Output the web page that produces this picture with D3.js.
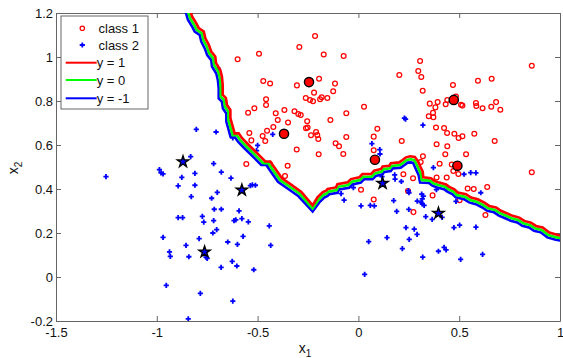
<!DOCTYPE html>
<html>
<head>
<meta charset="utf-8">
<script src="https://cdn.jsdelivr.net/npm/d3@7"></script>
<style>
body { margin: 0; background: #fff; }
text { font-family: "Liberation Sans", Arial, sans-serif; }
</style>
</head>
<body>
<div id="chart"></div>
<script>
// Axis ticks
var X_TICKS = [-1.5, -1, -0.5, 0, 0.5, 1];
var Y_TICKS = [-0.2, 0, 0.2, 0.4, 0.6, 0.8, 1, 1.2];

// class 1 samples (x1, x2)
var class1 = [
  [-0.215,1.095],[-0.293,1.045],[-0.172,1.011],[-0.073,1.005],[-0.493,1.015],[-0.599,0.990],
  [-0.472,0.891],[-0.438,0.880],[-0.305,0.871],[-0.195,0.901],[-0.116,0.879],[-0.220,0.838],
  [-0.125,0.844],[-0.261,0.814],[-0.240,0.805],[-0.225,0.799],[-0.190,0.808],[-0.182,0.817],
  [-0.154,0.814],[-0.458,0.808],[-0.458,0.782],[-0.516,0.767],[-0.547,0.747],[-0.410,0.744],
  [-0.367,0.759],[-0.317,0.753],[-0.298,0.741],[-0.286,0.736],[-0.400,0.714],[-0.349,0.702],
  [-0.254,0.708],[-0.139,0.714],[-0.060,0.744],[-0.422,0.682],[-0.453,0.665],[-0.541,0.655],
  [-0.531,0.621],[-0.475,0.641],[-0.462,0.618],[-0.260,0.676],[-0.252,0.679],[-0.210,0.659],
  [-0.204,0.645],[-0.235,0.644],[-0.199,0.627],[-0.060,0.636],[-0.113,0.608],[-0.096,0.594],
  [-0.075,0.559],[-0.306,0.580],[-0.197,0.558],[-0.556,0.514],[-0.438,0.512],[-0.351,0.506],
  [-0.364,0.459],
  [0.306,0.982],[0.297,0.936],[0.312,0.909],[0.203,0.918],[0.319,0.847],[0.860,0.960],
  [0.593,0.892],[0.661,0.901],[0.469,0.873],[0.484,0.820],[0.441,0.805],[0.354,0.788],
  [0.393,0.795],[0.382,0.771],[0.433,0.785],[0.509,0.783],[0.516,0.779],[0.583,0.791],
  [0.585,0.777],[0.616,0.767],[0.659,0.774],[0.683,0.795],[0.704,0.760],[0.028,0.774],
  [0.370,0.746],[0.372,0.726],[0.349,0.731],[0.385,0.680],[0.425,0.677],[0.440,0.655],
  [0.476,0.651],[0.497,0.632],[0.516,0.640],[0.575,0.651],[0.676,0.618],[0.388,0.603],
  [0.441,0.594],[0.431,0.558],[0.534,0.558],[0.094,0.674],[0.076,0.638],[0.215,0.618],
  [0.076,0.576],[0.320,0.549],[0.309,0.523],[0.403,0.515],[0.463,0.511],[0.860,0.476],
  [0.223,0.467],[0.271,0.449],[0.388,0.452],[0.438,0.452],[0.471,0.482],[0.496,0.468],
  [0.502,0.349],[0.542,0.402],[0.572,0.400],[0.639,0.409],[0.630,0.282],[0.013,0.397],
  [0.076,0.352],[0.246,0.391],[0.368,0.371],[0.273,0.295]
];

// class 2 samples
var class2 = [
  [-0.696,0.948],[-0.804,0.671],[-0.706,0.659],[-0.623,0.632],[-0.425,0.648],[-0.500,0.598],
  [-0.505,0.574],[-0.832,0.547],[-0.718,0.515],[-0.680,0.477],[-0.811,0.471],[-0.987,0.488],
  [-0.979,0.473],[-0.969,0.469],[-0.876,0.453],[-0.632,0.449],
  [-1.252,0.456],[-0.894,0.414],[-0.811,0.417],[-0.829,0.365],[-0.700,0.385],[-0.728,0.358],
  [-0.536,0.415],[-0.526,0.419],[-0.511,0.417],[-0.715,0.308],[-0.680,0.308],[-0.894,0.270],
  [-0.872,0.270],[-0.774,0.276],[-0.767,0.249],[-0.718,0.256],[-0.703,0.215],[-0.722,0.200],
  [-0.592,0.301],[-0.617,0.256],[-0.608,0.260],[-0.578,0.265],[-0.546,0.251],[-0.442,0.232],
  [-0.435,0.144],[-0.572,0.185],[-0.600,0.148],[-0.648,0.159],[-0.790,0.174],[-0.855,0.144],
  [-0.969,0.180],[-0.937,0.114],[-0.933,0.094],[-0.841,0.092],[-0.756,0.090],[-0.750,0.085],
  [-0.626,0.071],[-0.603,0.050],[-0.681,0.044],[-0.519,0.033],[-0.953,-0.038],[-0.784,-0.074],
  [-0.623,-0.110],[-0.844,-0.190],
  [0.234,0.718],[0.228,0.722],[0.320,0.690],[0.067,0.606],[0.106,0.579],[0.372,0.497],
  [0.524,0.467],[0.557,0.474],[0.583,0.473],[0.180,0.464],
  [0.107,0.559],[0.117,0.456],[0.182,0.445],[0.213,0.434],[0.248,0.393],[0.251,0.383],
  [0.314,0.377],[0.322,0.368],[0.317,0.355],[0.387,0.397],[0.438,0.408],[0.484,0.344],
  [0.607,0.383],[-0.025,0.406],[-0.086,0.379],[-0.071,0.349],[0.013,0.323],[0.059,0.326],
  [0.079,0.323],[0.175,0.347],[0.190,0.298],[0.250,0.307],[0.292,0.345],[0.311,0.339],
  [0.317,0.332],[0.326,0.326],[0.334,0.274],[0.366,0.262],[0.415,0.271],[0.236,0.224],
  [0.277,0.218],[0.291,0.194],[0.252,0.171],[0.142,0.179],[0.051,0.161],[0.218,0.129],
  [0.319,0.090],[0.397,0.117],[0.425,0.135],[0.435,0.123],[0.474,0.224],[0.502,0.236],
  [0.583,0.227],[0.507,0.080],[0.616,0.103],[0.031,0.012]
];

// support vectors
var sv1 = [[-0.245,0.886],[-0.369,0.651],[0.082,0.533],[0.473,0.805],[0.491,0.506]];
var sv2 = [[-0.870,0.524],[-0.578,0.395],[-0.763,0.114],[0.120,0.426],[0.397,0.290]];

// contour y = 1
var lineP1 = [
  [-0.836,1.218],[-0.825,1.184],[-0.804,1.153],[-0.792,1.131],[-0.767,1.116],[-0.759,1.085],
  [-0.742,1.055],[-0.730,1.025],[-0.710,1.002],[-0.706,0.972],[-0.685,0.941],[-0.677,0.911],
  [-0.673,0.873],[-0.673,0.828],[-0.657,0.813],[-0.652,0.782],[-0.635,0.759],[-0.635,0.722],
  [-0.614,0.653],[-0.594,0.653],[-0.577,0.631],[-0.544,0.600],[-0.494,0.555],[-0.462,0.525],
  [-0.437,0.525],[-0.420,0.502],[-0.379,0.449],[-0.332,0.419],[-0.283,0.387],[-0.227,0.326],
  [-0.203,0.362],[-0.178,0.385],[-0.161,0.392],[-0.153,0.400],[-0.112,0.407],[-0.104,0.422],
  [-0.054,0.430],[-0.037,0.445],[0.004,0.453],[0.020,0.468],[0.062,0.468],[0.078,0.483],
  [0.112,0.491],[0.120,0.502],[0.153,0.506],[0.161,0.517],[0.202,0.521],[0.219,0.532],
  [0.236,0.544],[0.257,0.549],[0.280,0.546],[0.296,0.525],[0.307,0.502],[0.319,0.479],
  [0.322,0.453],[0.360,0.449],[0.377,0.437],[0.401,0.429],[0.435,0.421],[0.451,0.410],
  [0.476,0.399],[0.493,0.384],[0.534,0.376],[0.559,0.361],[0.592,0.353],[0.625,0.338],
  [0.649,0.323],[0.683,0.316],[0.707,0.301],[0.741,0.288],[0.765,0.278],[0.798,0.270],
  [0.823,0.255],[0.856,0.247],[0.881,0.232],[0.914,0.225],[0.947,0.202],[0.989,0.191],
  [1.015,0.187]
];

// contour y = 0
var line0 = [
  [-0.846,1.210],[-0.835,1.176],[-0.814,1.145],[-0.802,1.123],[-0.777,1.108],[-0.769,1.077],
  [-0.752,1.047],[-0.740,1.017],[-0.720,0.994],[-0.716,0.964],[-0.695,0.933],[-0.687,0.903],
  [-0.683,0.865],[-0.683,0.820],[-0.667,0.805],[-0.662,0.774],[-0.645,0.751],[-0.645,0.714],
  [-0.624,0.645],[-0.604,0.645],[-0.587,0.623],[-0.554,0.592],[-0.504,0.547],[-0.472,0.517],
  [-0.447,0.517],[-0.430,0.494],[-0.389,0.441],[-0.339,0.409],[-0.290,0.377],[-0.227,0.312],
  [-0.199,0.350],[-0.174,0.373],[-0.157,0.380],[-0.149,0.388],[-0.108,0.395],[-0.100,0.410],
  [-0.050,0.418],[-0.033,0.433],[0.008,0.441],[0.024,0.456],[0.066,0.456],[0.082,0.471],
  [0.116,0.479],[0.124,0.490],[0.157,0.494],[0.165,0.505],[0.206,0.509],[0.223,0.520],
  [0.240,0.532],[0.259,0.535],[0.276,0.532],[0.286,0.517],[0.297,0.494],[0.309,0.471],
  [0.314,0.441],[0.355,0.438],[0.372,0.426],[0.396,0.418],[0.430,0.410],[0.446,0.399],
  [0.471,0.388],[0.488,0.373],[0.529,0.365],[0.554,0.350],[0.587,0.342],[0.620,0.327],
  [0.644,0.312],[0.678,0.305],[0.702,0.290],[0.736,0.277],[0.760,0.267],[0.793,0.259],
  [0.818,0.244],[0.851,0.236],[0.876,0.221],[0.909,0.214],[0.942,0.191],[0.984,0.180],
  [1.010,0.176]
];

// contour y = -1
var lineM1 = [
  [-0.856,1.202],[-0.845,1.168],[-0.824,1.137],[-0.812,1.115],[-0.787,1.100],[-0.779,1.069],
  [-0.762,1.039],[-0.750,1.009],[-0.730,0.986],[-0.726,0.956],[-0.705,0.925],[-0.697,0.895],
  [-0.693,0.857],[-0.693,0.812],[-0.677,0.797],[-0.672,0.766],[-0.655,0.743],[-0.655,0.706],
  [-0.634,0.637],[-0.614,0.637],[-0.597,0.615],[-0.564,0.584],[-0.514,0.539],[-0.482,0.509],
  [-0.457,0.509],[-0.440,0.486],[-0.399,0.433],[-0.346,0.399],[-0.297,0.367],[-0.227,0.298],
  [-0.195,0.338],[-0.170,0.361],[-0.153,0.368],[-0.145,0.376],[-0.104,0.383],[-0.096,0.398],
  [-0.046,0.406],[-0.029,0.421],[0.012,0.429],[0.028,0.444],[0.070,0.444],[0.086,0.459],
  [0.120,0.467],[0.128,0.478],[0.161,0.482],[0.169,0.493],[0.210,0.497],[0.227,0.508],
  [0.244,0.520],[0.261,0.521],[0.272,0.518],[0.276,0.509],[0.287,0.486],[0.299,0.463],
  [0.306,0.429],[0.350,0.427],[0.367,0.415],[0.391,0.407],[0.425,0.399],[0.441,0.388],
  [0.466,0.377],[0.483,0.362],[0.524,0.354],[0.549,0.339],[0.582,0.331],[0.615,0.316],
  [0.639,0.301],[0.673,0.294],[0.697,0.279],[0.731,0.266],[0.755,0.256],[0.788,0.248],
  [0.813,0.233],[0.846,0.225],[0.871,0.210],[0.904,0.203],[0.937,0.180],[0.979,0.169],
  [1.005,0.165]
];

var LEGEND_LABELS = ['class 1', 'class 2', 'y = 1', 'y = 0', 'y = -1'];

var width = 563, height = 358;
var margin = {top: 13, right: 3, bottom: 37, left: 56};

var svg = d3.select('#chart').append('svg')
  .attr('width', width)
  .attr('height', height);

var x = d3.scaleLinear().domain([-1.5, 1]).range([margin.left, width - margin.right]);
var y = d3.scaleLinear().domain([-0.2, 1.2]).range([height - margin.bottom, margin.top]);

svg.append('defs').append('clipPath').attr('id', 'plotclip')
  .append('rect')
  .attr('x', margin.left).attr('y', margin.top)
  .attr('width', x.range()[1] - margin.left)
  .attr('height', y.range()[0] - margin.top);

// axes, ticks pointing inward on all four sides (matlab box)
var fmt = function (d) { return String(d); };
var AXIS_COLOR = '#666';

function styleAxis(g) {
  g.select('.domain').attr('stroke', AXIS_COLOR);
  g.selectAll('.tick line').attr('stroke', AXIS_COLOR);
  g.selectAll('.tick text').attr('fill', '#111').style('font-size', '13px')
    .style('font-family', '"Liberation Sans", Arial, sans-serif');
}

svg.append('g')
  .attr('transform', 'translate(0,' + y(-0.2) + ')')
  .call(d3.axisBottom(x).tickValues(X_TICKS).tickFormat(fmt).tickSizeInner(-5).tickSizeOuter(0).tickPadding(7))
  .call(styleAxis);
svg.append('g')
  .attr('transform', 'translate(0,' + y(1.2) + ')')
  .call(d3.axisTop(x).tickValues(X_TICKS).tickFormat('').tickSizeInner(-5).tickSizeOuter(0))
  .call(styleAxis);
svg.append('g')
  .attr('transform', 'translate(' + x(-1.5) + ',0)')
  .call(d3.axisLeft(y).tickValues(Y_TICKS).tickFormat(fmt).tickSizeInner(-5).tickSizeOuter(0).tickPadding(3))
  .call(styleAxis);
svg.append('g')
  .attr('transform', 'translate(' + x(1) + ',0)')
  .call(d3.axisRight(y).tickValues(Y_TICKS).tickFormat('').tickSizeInner(-5).tickSizeOuter(0))
  .call(styleAxis);

// axis labels
var xl = svg.append('text')
  .attr('x', (x(-1.5) + x(1)) / 2 - 3)
  .attr('y', 353)
  .attr('text-anchor', 'middle')
  .style('font-size', '14px').attr('fill', '#111');
xl.append('tspan').text('x');
xl.append('tspan').attr('dy', 4).style('font-size', '10px').text('1');

var yl = svg.append('text')
  .attr('transform', 'translate(18,' + (y(0.5) + 1) + ') rotate(-90)')
  .attr('text-anchor', 'middle')
  .style('font-size', '14px').attr('fill', '#111');
yl.append('tspan').text('x');
yl.append('tspan').attr('dy', 4).style('font-size', '10px').text('2');

var plot = svg.append('g').attr('clip-path', 'url(#plotclip)');

var plusPath = 'M-2.6,0H2.6M0,-2.6V2.6';

plot.selectAll('circle.c1')
  .data(class1)
  .enter().append('circle')
  .attr('class', 'c1')
  .attr('cx', function (d) { return x(d[0]); })
  .attr('cy', function (d) { return y(d[1]); })
  .attr('r', 2.4)
  .attr('fill', 'none')
  .attr('stroke', '#ff0000')
  .attr('stroke-width', 1.25);

plot.selectAll('path.c2')
  .data(class2)
  .enter().append('path')
  .attr('class', 'c2')
  .attr('d', plusPath)
  .attr('transform', function (d) { return 'translate(' + x(d[0]) + ',' + y(d[1]) + ')'; })
  .attr('stroke', '#0000ff')
  .attr('stroke-width', 1.8);

// decision contours
var line = d3.line()
  .x(function (d) { return x(d[0]); })
  .y(function (d) { return y(d[1]); });

var contours = [
  {data: lineM1, color: '#0000ff'},
  {data: line0, color: '#00ff00'},
  {data: lineP1, color: '#ff0000'}
];
contours.forEach(function (c) {
  plot.append('path')
    .datum(c.data)
    .attr('d', line)
    .attr('fill', 'none')
    .attr('stroke', c.color)
    .attr('stroke-width', 2.6)
    .attr('stroke-linejoin', 'miter');
});

// support vectors on top
plot.selectAll('circle.sv1')
  .data(sv1)
  .enter().append('circle')
  .attr('class', 'sv1')
  .attr('cx', function (d) { return x(d[0]); })
  .attr('cy', function (d) { return y(d[1]); })
  .attr('r', 4.6)
  .attr('fill', '#ff0000')
  .attr('stroke', '#000')
  .attr('stroke-width', 1.4);

plot.selectAll('path.sv2')
  .data(sv2)
  .enter().append('path')
  .attr('class', 'sv2')
  .attr('d', d3.symbol().type(d3.symbolStar).size(40))
  .attr('transform', function (d) { return 'translate(' + x(d[0]) + ',' + y(d[1]) + ')'; })
  .attr('fill', '#0000ff')
  .attr('stroke', '#000')
  .attr('stroke-width', 1.4)
  .attr('stroke-linejoin', 'miter');

// legend
var legend = svg.append('g').attr('transform', 'translate(61,16)');
legend.append('rect')
  .attr('width', 87).attr('height', 93)
  .attr('fill', '#fff').attr('stroke', AXIS_COLOR);

var rowY = [12.3, 29, 46.7, 64, 82.3];
LEGEND_LABELS.forEach(function (lab, i) {
  var ry = rowY[i];
  if (i === 0) {
    legend.append('circle').attr('cx', 21.3).attr('cy', ry).attr('r', 2.2)
      .attr('fill', 'none').attr('stroke', '#ff0000').attr('stroke-width', 1.2);
  } else if (i === 1) {
    legend.append('path').attr('d', plusPath)
      .attr('transform', 'translate(21.3,' + ry + ')')
      .attr('stroke', '#0000ff').attr('stroke-width', 1.8);
  } else {
    legend.append('line').attr('x1', 4.7).attr('x2', 35.7).attr('y1', ry).attr('y2', ry)
      .attr('stroke', contours[4 - i].color).attr('stroke-width', 2);
  }
  legend.append('text')
    .attr('x', i < 2 ? 37.5 : 35.7)
    .attr('y', ry)
    .attr('dy', '0.36em')
    .style('font-size', '13px')
    .attr('fill', '#111')
    .text(lab);
});
</script>
</body>
</html>
